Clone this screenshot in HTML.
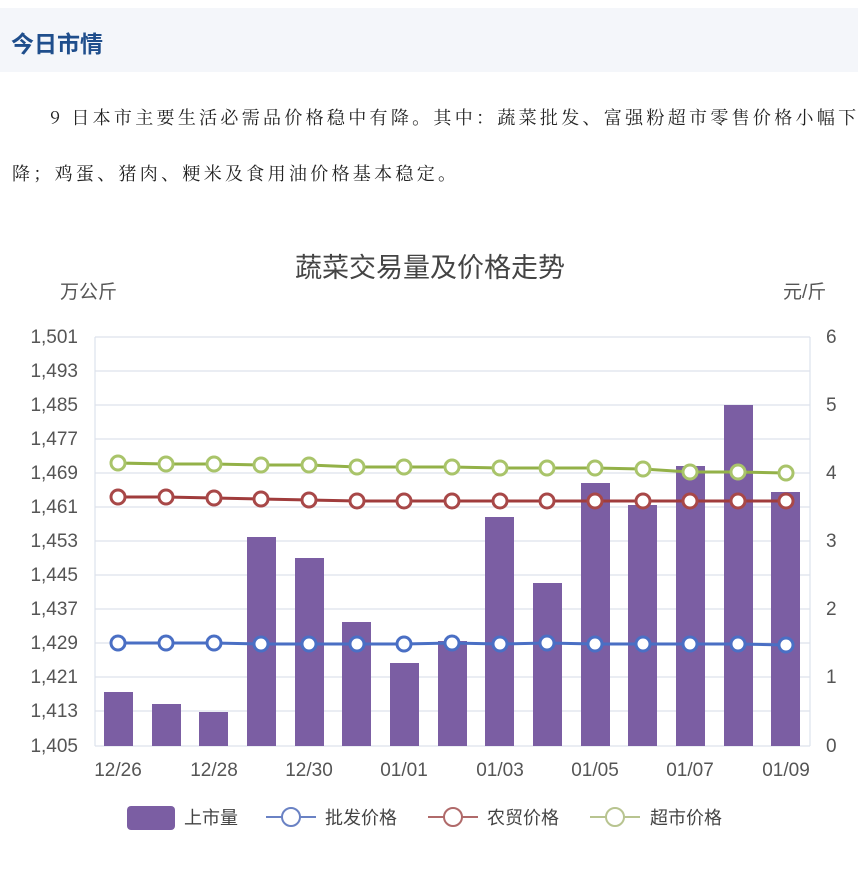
<!DOCTYPE html>
<html><head><meta charset="utf-8">
<style>
body{margin:0;width:867px;height:871px;background:#fff;font-family:"Liberation Sans","Noto Sans CJK SC",sans-serif;overflow:hidden;position:relative}
.hdr{position:absolute;left:0;top:8px;width:858px;height:64px;background:#f4f6fa}
.hdr span{position:absolute;left:11px;top:17px;font-size:23px;font-weight:bold;color:#1f4e8c}
.p{position:absolute;left:12px;font-size:18px;color:#222;white-space:nowrap;font-family:"Noto Serif CJK SC","Noto Sans CJK SC",serif;letter-spacing:3.3px}
</style></head><body>
<div class="hdr"><span>今日市情</span></div>
<div class="p" style="top:104px;left:50px">9 日本市主要生活必需品价格稳中有降。其中：蔬菜批发、富强粉超市零售价格小幅下</div>
<div class="p" style="top:160px">降；鸡蛋、猪肉、粳米及食用油价格基本稳定。</div>
<svg width="867" height="871" style="position:absolute;left:0;top:0" font-family="Liberation Sans,Noto Sans CJK SC,sans-serif">
<text x="430" y="277" font-size="27" fill="#444" text-anchor="middle">蔬菜交易量及价格走势</text>
<text x="60" y="298" font-size="19" fill="#555">万公斤</text>
<text x="783" y="298" font-size="19" fill="#555">元/斤</text>
<g stroke="#dde2ec" stroke-width="1.2">
<line x1="95" y1="337" x2="810" y2="337"/><line x1="95" y1="371" x2="810" y2="371"/><line x1="95" y1="405" x2="810" y2="405"/><line x1="95" y1="439" x2="810" y2="439"/><line x1="95" y1="473" x2="810" y2="473"/><line x1="95" y1="507" x2="810" y2="507"/><line x1="95" y1="541" x2="810" y2="541"/><line x1="95" y1="575" x2="810" y2="575"/><line x1="95" y1="609" x2="810" y2="609"/><line x1="95" y1="643" x2="810" y2="643"/><line x1="95" y1="677" x2="810" y2="677"/><line x1="95" y1="711" x2="810" y2="711"/><line x1="95" y1="746" x2="810" y2="746"/>
<line x1="95" y1="337" x2="95" y2="746"/><line x1="810" y1="337" x2="810" y2="746"/>
</g>
<g font-size="19" fill="#555" text-anchor="end">
<text x="78" y="343">1,501</text><text x="78" y="377">1,493</text><text x="78" y="411">1,485</text><text x="78" y="445">1,477</text><text x="78" y="479">1,469</text><text x="78" y="513">1,461</text><text x="78" y="547">1,453</text><text x="78" y="581">1,445</text><text x="78" y="615">1,437</text><text x="78" y="649">1,429</text><text x="78" y="683">1,421</text><text x="78" y="717">1,413</text><text x="78" y="752">1,405</text>
</g>
<g font-size="19" fill="#555">
<text x="826" y="343">6</text><text x="826" y="411">5</text><text x="826" y="479">4</text><text x="826" y="547">3</text><text x="826" y="615">2</text><text x="826" y="683">1</text><text x="826" y="752">0</text>
</g>
<g fill="#7b5ea3">
<rect x="104" y="692" width="29" height="54"/><rect x="152" y="704" width="29" height="42"/><rect x="199" y="712" width="29" height="34"/><rect x="247" y="537" width="29" height="209"/><rect x="295" y="558" width="29" height="188"/><rect x="342" y="622" width="29" height="124"/><rect x="390" y="663" width="29" height="83"/><rect x="438" y="641" width="29" height="105"/><rect x="485" y="517" width="29" height="229"/><rect x="533" y="583" width="29" height="163"/><rect x="581" y="483" width="29" height="263"/><rect x="628" y="505" width="29" height="241"/><rect x="676" y="466" width="29" height="280"/><rect x="724" y="405" width="29" height="341"/><rect x="771" y="492" width="29" height="254"/>
</g>
<g font-size="19" fill="#555" text-anchor="middle">
<text x="118" y="776">12/26</text><text x="214" y="776">12/28</text><text x="309" y="776">12/30</text><text x="404" y="776">01/01</text><text x="500" y="776">01/03</text><text x="595" y="776">01/05</text><text x="690" y="776">01/07</text><text x="786" y="776">01/09</text>
</g>
<g fill="#fff" stroke-width="3">
<polyline fill="none" stroke="#93b148" points="118,463 166,464 214,464 261,465 309,465 357,467 404,467 452,467 500,468 547,468 595,468 643,469 690,472 738,472 786,473"/>
<g stroke="#a9c46a"><circle cx="118" cy="463" r="7"/><circle cx="166" cy="464" r="7"/><circle cx="214" cy="464" r="7"/><circle cx="261" cy="465" r="7"/><circle cx="309" cy="465" r="7"/><circle cx="357" cy="467" r="7"/><circle cx="404" cy="467" r="7"/><circle cx="452" cy="467" r="7"/><circle cx="500" cy="468" r="7"/><circle cx="547" cy="468" r="7"/><circle cx="595" cy="468" r="7"/><circle cx="643" cy="469" r="7"/><circle cx="690" cy="472" r="7"/><circle cx="738" cy="472" r="7"/><circle cx="786" cy="473" r="7"/></g>
<polyline fill="none" stroke="#a03c3c" points="118,497 166,497 214,498 261,499 309,500 357,501 404,501 452,501 500,501 547,501 595,501 643,501 690,501 738,501 786,501"/>
<g stroke="#a84848"><circle cx="118" cy="497" r="7"/><circle cx="166" cy="497" r="7"/><circle cx="214" cy="498" r="7"/><circle cx="261" cy="499" r="7"/><circle cx="309" cy="500" r="7"/><circle cx="357" cy="501" r="7"/><circle cx="404" cy="501" r="7"/><circle cx="452" cy="501" r="7"/><circle cx="500" cy="501" r="7"/><circle cx="547" cy="501" r="7"/><circle cx="595" cy="501" r="7"/><circle cx="643" cy="501" r="7"/><circle cx="690" cy="501" r="7"/><circle cx="738" cy="501" r="7"/><circle cx="786" cy="501" r="7"/></g>
<polyline fill="none" stroke="#4a6fc4" points="118,643 166,643 214,643 261,644 309,644 357,644 404,644 452,643 500,644 547,643 595,644 643,644 690,644 738,644 786,645"/>
<g stroke="#4a6fc4"><circle cx="118" cy="643" r="7"/><circle cx="166" cy="643" r="7"/><circle cx="214" cy="643" r="7"/><circle cx="261" cy="644" r="7"/><circle cx="309" cy="644" r="7"/><circle cx="357" cy="644" r="7"/><circle cx="404" cy="644" r="7"/><circle cx="452" cy="643" r="7"/><circle cx="500" cy="644" r="7"/><circle cx="547" cy="643" r="7"/><circle cx="595" cy="644" r="7"/><circle cx="643" cy="644" r="7"/><circle cx="690" cy="644" r="7"/><circle cx="738" cy="644" r="7"/><circle cx="786" cy="645" r="7"/></g>
</g>
<rect x="127" y="806" width="48" height="24" rx="4" fill="#7b5ea3"/>
<text x="184" y="824" font-size="18" fill="#444">上市量</text>
<g stroke-width="2" fill="#fff">
<line x1="266" y1="817" x2="316" y2="817" stroke="#6a82c4"/><circle cx="291" cy="817" r="9" stroke="#6a82c4"/>
<line x1="428" y1="817" x2="478" y2="817" stroke="#b06a6a"/><circle cx="453" cy="817" r="9" stroke="#b06a6a"/>
<line x1="590" y1="817" x2="640" y2="817" stroke="#b8c490"/><circle cx="615" cy="817" r="9" stroke="#b8c490"/>
</g>
<text x="325" y="824" font-size="18" fill="#444">批发价格</text>
<text x="487" y="824" font-size="18" fill="#444">农贸价格</text>
<text x="650" y="824" font-size="18" fill="#444">超市价格</text>
</svg>
</body></html>
